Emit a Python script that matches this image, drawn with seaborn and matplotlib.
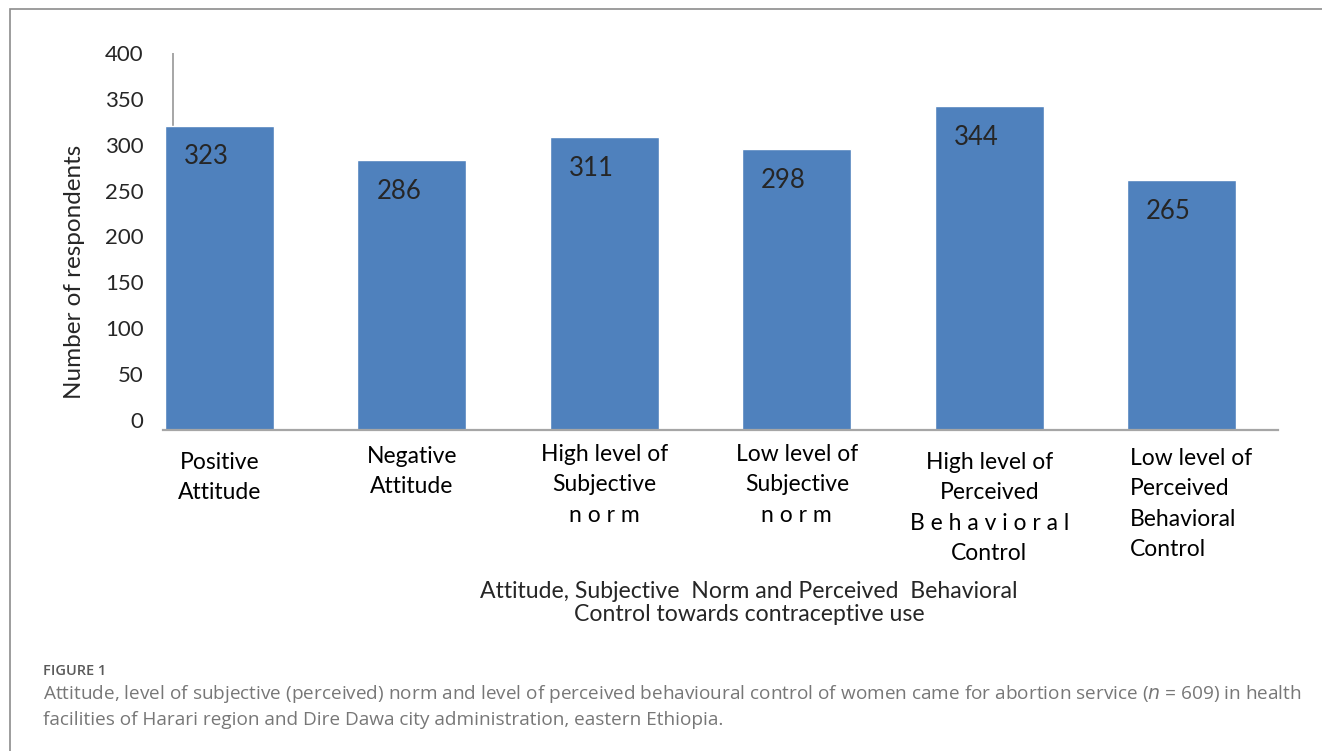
import matplotlib
matplotlib.use("Agg")
import matplotlib.pyplot as plt
import matplotlib.transforms as mtransforms
import seaborn as sns
import pandas as pd

# Data
categories = [
    "Positive\nAttitude",
    "Negative\nAttitude",
    "High level of\nSubjective\nn o r m",
    "Low level of\nSubjective\nn o r m",
    "High level of\nPerceived\nB e h a v i o r a l\nControl",
    "Low level of\nPerceived\nBehavioral\nControl",
]
respondents = [323, 286, 311, 298, 344, 265]
y_ticks = [0, 50, 100, 150, 200, 250, 300, 350, 400]

x_title = "Attitude, Subjective  Norm and Perceived  Behavioral\nControl towards contraceptive use"
y_title = "Number of respondents"
fig_label = "FIGURE 1"
caption = ("Attitude, level of subjective (perceived) norm and level of perceived behavioural control of women came for abortion service ($n$ = 609) in health\n"
           "facilities of Harari region and Dire Dawa city administration, eastern Ethiopia.")

df = pd.DataFrame({"group": categories, "count": respondents})

sns.set_style("white")
plt.rcParams["font.family"] = ["Lato", "DejaVu Sans"]

W, H = 1322, 751
fig = plt.figure(figsize=(W / 100, H / 100), dpi=100)
ax = fig.add_axes([163 / W, 1 - 430 / H, (1278 - 163) / W, 377 / H])

sns.barplot(data=df, x="group", y="count", color="#4F81BD", saturation=1,
            width=0.566, ax=ax, zorder=2)

ax.set_xlim(-0.2935, 5.5)
ax.set_ylim(0, 400)
ax.set_yticks(y_ticks)
ax.tick_params(axis="y", length=0, pad=14, labelsize=16)
ax.tick_params(axis="x", length=0, pad=10, labelsize=16.5)

for side in ["top", "right", "left"]:
    ax.spines[side].set_visible(False)
ax.spines["bottom"].set_color("#A6A6A6")
ax.spines["bottom"].set_linewidth(1.6)
ax.axvline(-0.2416, color="#A6A6A6", lw=1.4, zorder=1)

# the y labels in the original sit a little above their gridline value near the bottom
for lab, v in zip(ax.get_yticklabels(), y_ticks):
    lab.set_transform(lab.get_transform() + mtransforms.ScaledTranslation(0, (10 - 0.025 * v) / 100, fig.dpi_scale_trans))

# category labels: small per-label shifts as in the original
x_shift = [0, 0, 0, 0, 0, -52]
y_shift = [-8, -2, 0, 0, -8, -4]
for lab, dx, dy in zip(ax.get_xticklabels(), x_shift, y_shift):
    lab.set_linespacing(1.55)
    lab.set_color("black")
    lab.set_transform(lab.get_transform() + mtransforms.ScaledTranslation(dx / 100, dy / 100, fig.dpi_scale_trans))
ax.get_xticklabels()[-1].set_ha("left")

# value labels inside the bars
for patch, v in zip(ax.patches, respondents):
    ax.annotate(str(v), (patch.get_x() + patch.get_width() / 2, patch.get_height()),
                xytext=(-9.5, -22.5), textcoords="offset points",
                ha="center", va="center", fontsize=18.5)

ax.set_xlabel(x_title, fontsize=16.6, linespacing=1.15)
ax.xaxis.set_label_coords((749 - 163) / 1115, -0.4)
ax.set_ylabel(y_title, fontsize=17.5)
ax.yaxis.set_label_coords(-0.07, 0.42)

# outer frame of the figure panel
fig.add_artist(plt.Rectangle((10 / W, -0.1), 1.2, 1.1 - 10 / H + 0.001, fill=False,
                             edgecolor="#8C8C8C", lw=1.2, transform=fig.transFigure))

fig.text(43 / W, 1 - 671 / H, fig_label, fontsize=10.5, color="#5A5A5A",
         family="Open Sans", va="center", fontweight="semibold")
fig.text(43 / W, 1 - 683 / H, caption, fontsize=13.65, color="#777777",
         family="Open Sans", va="top", linespacing=1.45)

fig.savefig("out.png", dpi=100)
